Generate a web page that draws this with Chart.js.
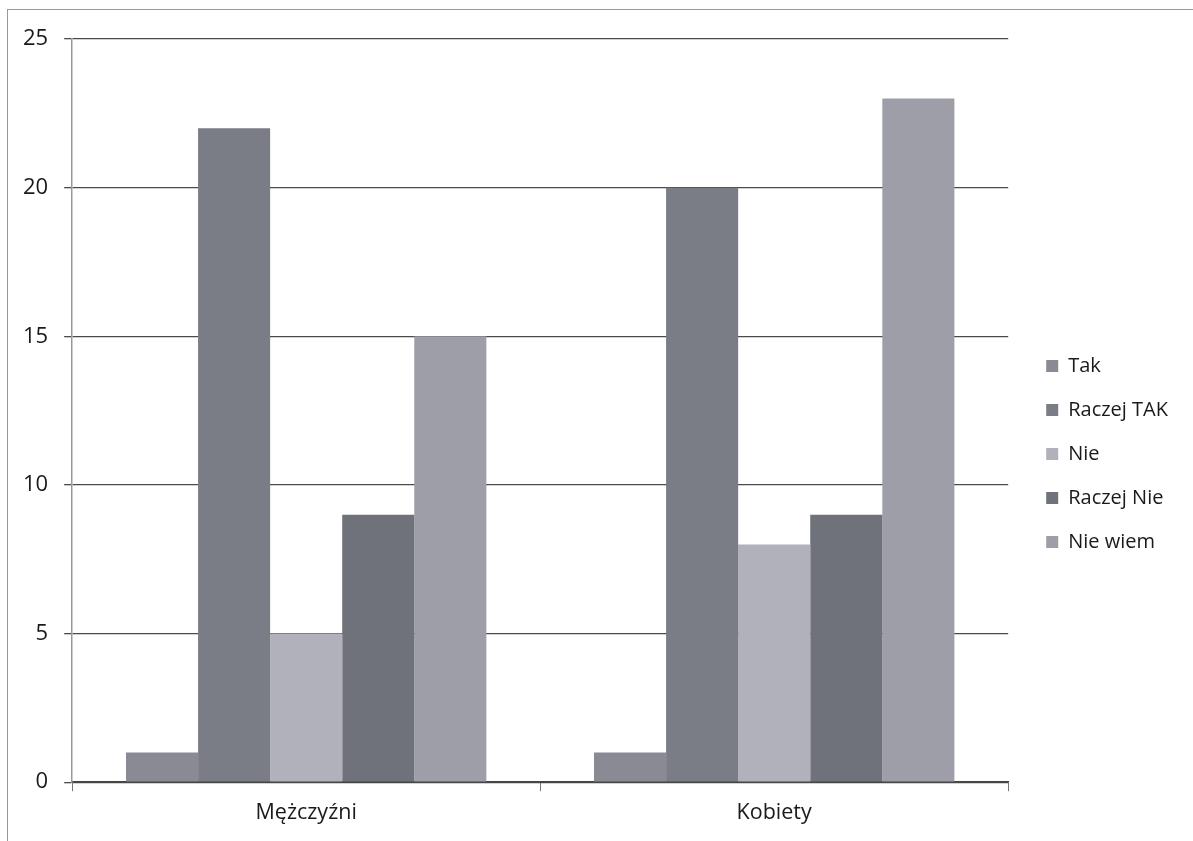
<!DOCTYPE html>
<html>
<head>
<meta charset="utf-8">
<script src="https://cdn.jsdelivr.net/npm/chart.js@4"></script>
<style>
  html, body { margin: 0; padding: 0; background: #fff; }
  #frame {
    position: absolute; left: 7px; top: 9px; width: 1186px; height: 832px;
    border-left: 1px solid #999; border-top: 1px solid #999; box-sizing: border-box;
  }
  #wrap { position: absolute; left: 0; top: 0; width: 1193px; height: 841px; }
</style>
</head>
<body>
<div id="frame"></div>
<div id="wrap"><canvas id="surveyChart"></canvas></div>
<script>
const categories = ['Mężczyźni', 'Kobiety'];
const seriesNames = ['Tak', 'Raczej TAK', 'Nie', 'Raczej Nie', 'Nie wiem'];
const tak = [1, 1];
const raczejTak = [22, 20];
const nie = [5, 8];
const raczejNie = [9, 9];
const nieWiem = [15, 23];
const yTicks = [0, 5, 10, 15, 20, 25];
const seriesColors = ['#898a94', '#7b7d86', '#b0b1ba', '#6f717b', '#9d9ea7'];

const allValues = [tak, raczejTak, nie, raczejNie, nieWiem];

// nudge the legend a bit right/down, like the original sheet
const legendShift = {
    id: 'legendShift',
    afterLayout(chart) {
        const lg = chart.legend;
        lg.left += 14; lg.right += 14;
        lg.top += 17; lg.bottom += 17;
    },
};

const ctx = document.getElementById('surveyChart').getContext('2d');
const surveyChart = new Chart(ctx, {
    type: 'bar',
    data: {
        labels: categories,
        datasets: seriesNames.map((name, i) => ({
            label: name,
            data: allValues[i],
            backgroundColor: seriesColors[i],
            borderWidth: 0,
            barPercentage: 1.0,
            categoryPercentage: 0.77,
        })),
    },
    options: {
        responsive: true,
        maintainAspectRatio: false,
        animation: false,
        layout: {
            padding: { left: 7, top: 39, right: 29, bottom: 6 },
        },
        scales: {
            x: {
                grid: {
                    drawOnChartArea: false,
                    drawTicks: true,
                    tickLength: 9,
                    color: '#777',
                },
                border: { color: '#444', width: 1.5 },
                ticks: {
                    color: '#1a1a1a',
                    font: { family: 'Open Sans', size: 21.5 },
                    padding: 9,
                },
            },
            y: {
                min: 0,
                max: 25,
                afterBuildTicks: (axis) => { axis.ticks = yTicks.map(v => ({ value: v })); },
                grid: {
                    color: '#4a4a4a',
                    lineWidth: 1.3,
                    tickLength: 8,
                },
                border: { color: '#999', width: 1.5 },
                ticks: {
                    color: '#1a1a1a',
                    font: { family: 'Open Sans', size: 22 },
                    padding: 16,
                },
            },
        },
        plugins: {
            legend: {
                position: 'right',
                labels: {
                    boxWidth: 12,
                    boxHeight: 12,
                    padding: 24,
                    color: '#1a1a1a',
                    font: { family: 'Open Sans', size: 20 },
                },
            },
            tooltip: { enabled: false },
        },
    },
    plugins: [legendShift],
});
</script>
</body>
</html>
